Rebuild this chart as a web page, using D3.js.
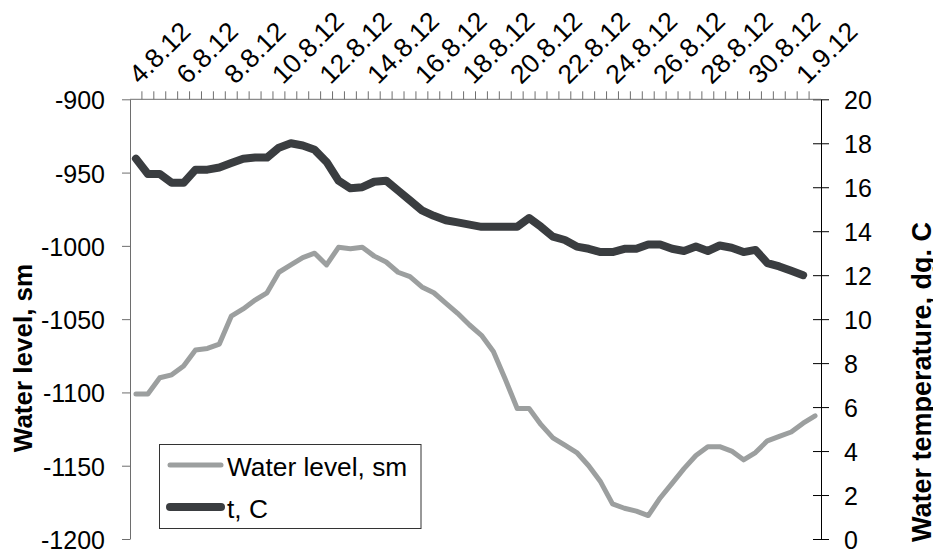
<!DOCTYPE html>
<html>
<head>
<meta charset="utf-8">
<script src="https://cdn.jsdelivr.net/npm/d3@7"></script>
<style>
  body { margin: 0; background: #fff; }
  svg { display: block; }
  text { font-family: Arial, "Liberation Sans", sans-serif; fill: #000; }
</style>
</head>
<body>
<svg id="chart" width="933" height="550"></svg>
<script>
// Half-day observation slots, 4 Aug 2012 to 1 Sep 2012
const categories = [
  "4.8.12 00h","4.8.12 12h","5.8.12 00h","5.8.12 12h","6.8.12 00h","6.8.12 12h",
  "7.8.12 00h","7.8.12 12h","8.8.12 00h","8.8.12 12h","9.8.12 00h","9.8.12 12h",
  "10.8.12 00h","10.8.12 12h","11.8.12 00h","11.8.12 12h","12.8.12 00h","12.8.12 12h",
  "13.8.12 00h","13.8.12 12h","14.8.12 00h","14.8.12 12h","15.8.12 00h","15.8.12 12h",
  "16.8.12 00h","16.8.12 12h","17.8.12 00h","17.8.12 12h","18.8.12 00h","18.8.12 12h",
  "19.8.12 00h","19.8.12 12h","20.8.12 00h","20.8.12 12h","21.8.12 00h","21.8.12 12h",
  "22.8.12 00h","22.8.12 12h","23.8.12 00h","23.8.12 12h","24.8.12 00h","24.8.12 12h",
  "25.8.12 00h","25.8.12 12h","26.8.12 00h","26.8.12 12h","27.8.12 00h","27.8.12 12h",
  "28.8.12 00h","28.8.12 12h","29.8.12 00h","29.8.12 12h","30.8.12 00h","30.8.12 12h",
  "31.8.12 00h","31.8.12 12h","1.9.12 00h","1.9.12 12h"
];

// Date labels shown on the top axis (every second day)
const tickLabels = [
  "4.8.12","6.8.12","8.8.12","10.8.12","12.8.12","14.8.12","16.8.12","18.8.12",
  "20.8.12","22.8.12","24.8.12","26.8.12","28.8.12","30.8.12","1.9.12"
];

// Water level, sm (left axis)
const waterLevel = [
  -1101, -1101, -1090, -1088, -1082, -1071, -1070, -1067, -1048, -1043,
  -1037, -1032, -1018, -1013, -1008, -1005, -1013, -1001, -1002, -1001,
  -1007, -1011, -1018, -1021, -1028, -1032, -1039, -1046, -1054, -1061,
  -1072, -1091, -1111, -1111, -1122, -1131, -1136, -1141, -1150, -1161,
  -1176, -1179, -1181, -1184, -1172, -1162, -1152, -1143, -1137, -1137,
  -1140, -1146, -1141, -1133, -1130, -1127, -1121, -1116
];

// Water temperature, dg. C (right axis)
const temperature = [
  17.3, 16.6, 16.6, 16.2, 16.2, 16.8, 16.8, 16.9, 17.1, 17.3,
  17.35, 17.35, 17.8, 18.0, 17.9, 17.7, 17.15, 16.3, 15.95, 16.0,
  16.25, 16.3, 15.85, 15.4, 14.95, 14.7, 14.5, 14.4, 14.3, 14.2,
  14.2, 14.2, 14.2, 14.6, 14.2, 13.75, 13.6, 13.3, 13.2, 13.05,
  13.05, 13.2, 13.2, 13.4, 13.4, 13.2, 13.1, 13.3, 13.1, 13.35,
  13.25, 13.05, 13.15, 12.55, 12.4, 12.2, 12.0
];

const leftTicks = [-1200, -1150, -1100, -1050, -1000, -950, -900];
const rightTicks = [0, 2, 4, 6, 8, 10, 12, 14, 16, 18, 20];

const FONT = "Arial, 'Liberation Sans', sans-serif";
const svg = d3.select("#chart");

const plot = { left: 130, right: 821, top: 99.3, bottom: 539 };

const x = d3.scaleBand().domain(categories).range([plot.left, plot.right]).padding(0);
const bw = x.bandwidth();
const yL = d3.scaleLinear().domain([-1200, -900]).range([plot.bottom, plot.top]);
const yR = d3.scaleLinear().domain([0, 20]).range([plot.bottom, plot.top]);

// Left axis
const gL = svg.append("g")
  .attr("transform", `translate(${plot.left},0)`)
  .call(d3.axisLeft(yL).tickValues(leftTicks).tickFormat(d => String(d))
    .tickSize(8).tickPadding(17).tickSizeOuter(0));
gL.select(".domain").attr("stroke", "#6e6e6e");
gL.selectAll(".tick line").attr("stroke", "#6e6e6e");
gL.selectAll(".tick text")
  .attr("font-size", 25).attr("font-family", FONT)
  .attr("fill", "#000").attr("dy", "0.38em");

// Right axis, ticks crossing the line
const gR = svg.append("g")
  .attr("transform", `translate(${plot.right},0)`)
  .call(d3.axisRight(yR).tickValues(rightTicks).tickFormat(d => String(d))
    .tickSize(8).tickPadding(15).tickSizeOuter(0));
gR.select(".domain").attr("stroke", "#000");
gR.selectAll(".tick line").attr("x1", -8).attr("stroke", "#000");
gR.selectAll(".tick text")
  .attr("font-size", 25).attr("font-family", FONT)
  .attr("fill", "#000").attr("dy", "0.36em");

// Top category axis: line, ticks at slot boundaries, rotated date labels
const gT = svg.append("g");
gT.append("line")
  .attr("x1", plot.left).attr("x2", plot.right)
  .attr("y1", plot.top).attr("y2", plot.top)
  .attr("stroke", "#6e6e6e");
const boundaries = categories.map(c => x(c)).concat([x.range()[1]]);
gT.selectAll("line.tick").data(boundaries.slice(1, -1)).join("line")
  .attr("class", "tick")
  .attr("x1", d => d).attr("x2", d => d)
  .attr("y1", plot.top).attr("y2", plot.top - 8)
  .attr("stroke", "#6e6e6e");
gT.selectAll("text").data(tickLabels).join("text")
  .attr("transform", (d, i) => `translate(${x(categories[i * 4]) + bw / 2 + 4},${plot.top - 14}) rotate(-45)`)
  .attr("text-anchor", "start")
  .attr("font-size", 26.5)
  .text(d => d);

// Series lines
const waterLine = d3.line()
  .x((d, i) => x(categories[i]) + bw / 2)
  .y(d => yL(d));
const tempLine = d3.line()
  .x((d, i) => x(categories[i]) + bw / 2)
  .y(d => yR(d));

svg.append("path").datum(waterLevel)
  .attr("d", waterLine)
  .attr("fill", "none").attr("stroke", "#9c9f9f").attr("stroke-width", 5)
  .attr("stroke-linejoin", "round").attr("stroke-linecap", "round");

svg.append("path").datum(temperature)
  .attr("d", tempLine)
  .attr("fill", "none").attr("stroke", "#3a3d40").attr("stroke-width", 8)
  .attr("stroke-linejoin", "round").attr("stroke-linecap", "round");

// Axis titles
svg.append("text")
  .attr("transform", "translate(32,358) rotate(-90)")
  .attr("text-anchor", "middle").attr("font-weight", "bold").attr("font-size", 26)
  .text("Water level, sm");
svg.append("text")
  .attr("transform", "translate(931,382) rotate(-90)")
  .attr("text-anchor", "middle").attr("font-weight", "bold").attr("font-size", 27)
  .text("Water temperature, dg. C");

// Legend
const legend = svg.append("g");
legend.append("rect")
  .attr("x", 159.5).attr("y", 444.5).attr("width", 261.5).attr("height", 84)
  .attr("fill", "#fff").attr("stroke", "#333").attr("stroke-width", 1);
const legendItems = [
  { label: "Water level, sm", color: "#9c9f9f", width: 5, y: 465, base: 475.5 },
  { label: "t, C", color: "#3a3d40", width: 8, y: 507, base: 518 }
];
legendItems.forEach(item => {
  legend.append("line")
    .attr("x1", 170).attr("x2", 221).attr("y1", item.y).attr("y2", item.y)
    .attr("stroke", item.color).attr("stroke-width", item.width).attr("stroke-linecap", "round");
  legend.append("text")
    .attr("x", 227).attr("y", item.base).attr("font-size", 26.3)
    .text(item.label);
});
</script>
</body>
</html>
